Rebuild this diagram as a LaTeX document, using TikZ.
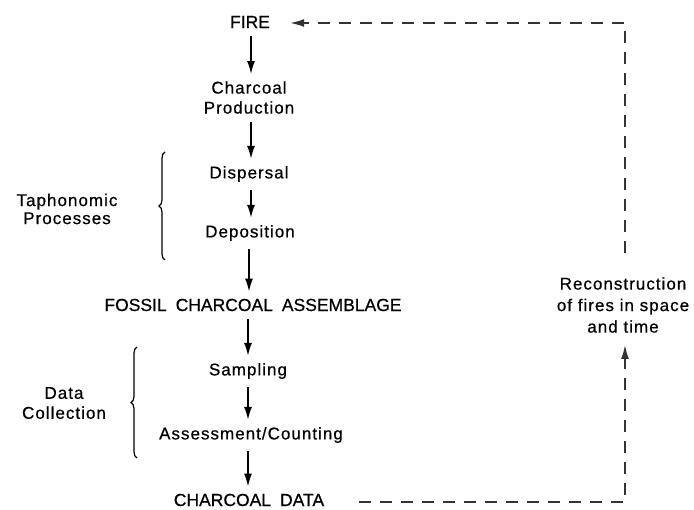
\documentclass[tikz,border=0pt]{standalone}
\usepackage{fontspec}
\setmainfont{Liberation Sans}[LetterSpace=6,FakeBold=0.6]
\newfontfamily\capsfont{Liberation Sans}[FakeBold=0.6]
\usetikzlibrary{arrows.meta,decorations.pathreplacing}
\newcommand{\wsp}{\hspace{9pt}}
\tikzset{
  lab/.style={inner sep=0pt, align=center, font=\fontsize{17}{20}\selectfont},
  caps/.style={inner sep=0pt, align=center, font=\capsfont\fontsize{17.5}{20}\selectfont},
  flow/.style={line width=1.6pt, -{Latex[length=13pt,width=8pt]}, shorten <=8pt, shorten >=7pt},
  fb/.style={line width=1.6pt, black!80, dash pattern=on 12pt off 9pt},
  fbarrow/.style={fb, -{Latex[length=14pt,width=8pt]}},
  bracestyle/.style={line width=1.2pt, decorate, decoration={brace, amplitude=6pt}},
}
\begin{document}
\begin{tikzpicture}[x=1pt,y=-1pt]
\useasboundingbox (0,0) rectangle (694,510);
\node[caps] (fire) at (250,22) {FIRE};
\node[lab] (prod) at (249,97.5) {Charcoal\\Production};
\node[lab] (disp) at (249,174) {Dispersal};
\node[lab] (depo) at (250,233) {Deposition};
\node[caps] (fossil) at (253,305) {FOSSIL\wsp CHARCOAL\wsp ASSEMBLAGE};
\node[lab] (samp) at (248,371) {Sampling};
\node[lab] (assess) at (251,435) {Assessment/Counting};
\node[caps] (data) at (249,500) {CHARCOAL\wsp DATA};
\node[lab, font=\fontsize{17}{21.5}\selectfont] (recon) at (623,305) {Reconstruction\\of fires in space\\and time};
\node[lab, font=\fontsize{17}{18}\selectfont] (tapho) at (67,209) {Taphonomic\\Processes};
\node[lab] (datacol) at (64,403) {Data\\Collection};

\coordinate (b1a) at (165,260);
\coordinate (b1b) at (165,152);
\coordinate (b2a) at (137,458);
\coordinate (b2b) at (137,347);
\draw[bracestyle] (b1a) -- (b1b);
\draw[bracestyle] (b2a) -- (b2b);

\draw[flow] (fire.south -| 251,0) -- (prod.north -| 251,0);
\draw[flow] (prod.south -| 251,0) -- (disp.north -| 251,0);
\draw[flow] (disp.south -| 251,0) -- (depo.north -| 251,0);
\draw[flow] (depo.south -| 249,0) -- (fossil.north -| 249,0);
\draw[flow] (fossil.south -| 248,0) -- (samp.north -| 248,0);
\draw[flow] (samp.south -| 248,0) -- (assess.north -| 248,0);
\draw[flow] (assess.south -| 248,0) -- (data.north -| 248,0);

\coordinate (c1) at (625,502);
\coordinate (c2) at (625,23);
\draw[fbarrow, shorten <=35pt, shorten >=12pt] (data.east |- c1) -- (c1) -- (recon.south -| c1);
\draw[fbarrow, shorten <=24pt, shorten >=20pt] (recon.north -| c2) -- (c2) -- (fire.east |- c2);
\end{tikzpicture}
\end{document}
